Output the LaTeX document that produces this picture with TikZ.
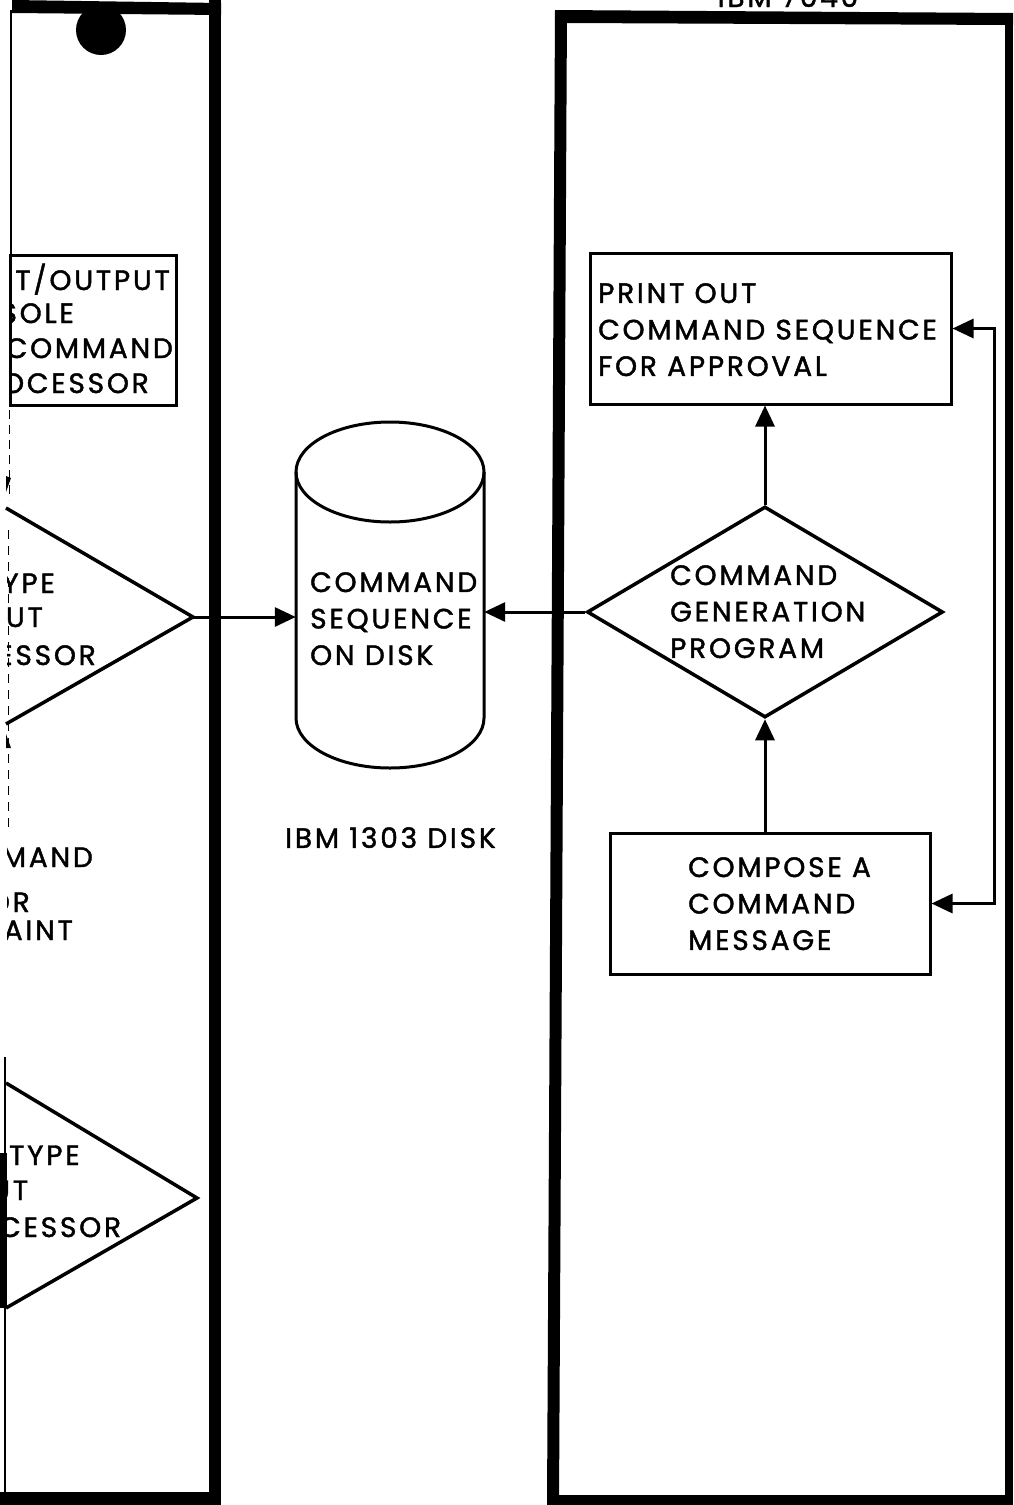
\documentclass[tikz,border=0pt]{standalone}
\usepackage{fontspec}
\setmainfont{Poppins}[LetterSpace=10, FakeBold=1.5]
\usetikzlibrary{arrows.meta,shapes.geometric}
\newcommand\labfont{\fontsize{28}{36.5}\selectfont}
\begin{document}
\begin{tikzpicture}[x=1pt,y=-1pt,
  box/.style={draw, line width=3pt, inner sep=0pt},
  lab/.style={anchor=north west, inner sep=0pt, align=left, font=\labfont},
  frag/.style={anchor=base east, inner sep=0pt, font=\labfont},
  fragw/.style={anchor=base west, inner sep=0pt, font=\labfont},
  edge/.style={line width=3.5pt, line join=miter},
  arr/.style={line width=3pt, -{Triangle[length=21pt,width=19pt]}},
]
\useasboundingbox (0,0) rectangle (1013,1505);
\clip (0,0) rectangle (1013,1505);

% ---------- left panel frame ----------
\fill (12,0) -- (221,3) -- (221,15) -- (12,13) -- cycle;
\fill (209,0) rectangle (221,1505);
\fill (0,1492) rectangle (221,1505);
\draw[line width=1.5pt] (11,10) -- (11,256);
\fill (101,30) circle[radius=25pt];
\draw[line width=1pt, dash pattern=on 9pt off 6pt] (9,410) -- (9,500);
\draw[line width=1pt, dash pattern=on 9pt off 7pt] (8,530) -- (8,830);
\fill (6,476) -- (11,478) -- (6,492) -- cycle;
\fill (6,734) -- (11,748) -- (6,748) -- cycle;

% console command processor box
\node[box, minimum width=166pt, minimum height=150pt] (iobox) at (93,330) {};
\begin{scope}
  \clip (10,240) rectangle (200,420);
  \node[frag] (io1) at (170,290) {UT/OUTPUT};
  \node[frag] (io2) at (74,323) {SOLE};
  \node[frag] (io3) at (173,358) {COMMAND};
  \node[frag] (io4) at (149,393) {OCESSOR};
\end{scope}

% first teletype input processor
\coordinate (t1tip) at (193,617);
\draw[edge] (6,508) -- (t1tip) -- (6,724);
% second teletype input processor
\coordinate (t2tip) at (197,1198);
\draw[edge] (6,1083) -- (t2tip) -- (6,1308);
\fill (0,1153) rectangle (7,1308);
\draw[line width=1.5pt] (5,1057) -- (5,1495);

\begin{scope}
  \clip (7,500) rectangle (200,1400);
  \node[frag] (ta1) at (55,593) {YPE};
  \node[frag] (ta2) at (43,627) {UT};
  \node[frag] (ta3) at (96,665) {ESSOR};
  \node[frag] (cr1) at (93,867) {MAND};
  \node[frag] (cr2) at (30,912) {OR};
  \node[frag] (cr3) at (73,940) {AINT};
  \node[fragw] (tb1) at (9,1165) {TYPE};
  \node[fragw] (tb2) at (-9,1200) {UT};
  \node[fragw] (tb3) at (-1,1237) {CESSOR};
\end{scope}

% ---------- disk ----------
\node[minimum width=188pt, minimum height=200pt, inner sep=0pt] (disk) at (390,615) {};
\draw[line width=3pt] (390,472) ellipse [x radius=94pt, y radius=50pt];
\draw[line width=3pt] (296,472) -- (296,718)
  arc[start angle=180, end angle=360, x radius=94pt, y radius=50pt] -- (484,472);
\node[lab] (disktxt) at (310,572) {COMMAND\\SEQUENCE\\ON DISK};
\node[lab] (disklbl) at (285,827) {IBM 1303 DISK};

% ---------- right panel frame ----------
\fill (555,10) -- (1013,13) -- (1013,25) -- (567,23) -- cycle;
\fill (555,10) -- (567,10) -- (559,1505) -- (547,1505) -- cycle;
\fill (1005,13) rectangle (1013,1505);
\fill (547,1495) rectangle (1013,1505);
\node[anchor=base, inner sep=0pt, font=\labfont] (title) at (788,7) {IBM 7040};

% print-out box
\node[box, minimum width=361pt, minimum height=151pt] (print) at (770.5,328.5) {};
\node[lab] (printtxt) at (598,283) {PRINT OUT\\COMMAND SEQUENCE\\FOR APPROVAL};

% command generation program
\node[draw, diamond, line width=3.5pt, minimum width=356pt, minimum height=211pt,
      inner sep=0pt] (gen) at (765,612) {};
\node[lab] (gentxt) at (670,565) {COMMAND\\GENERATION\\PROGRAM};

% compose box
\node[box, minimum width=320pt, minimum height=141pt] (compose) at (770,903.5) {};
\node[lab] (comptxt) at (688,857) {COMPOSE A\\COMMAND\\MESSAGE};

% ---------- connectors ----------
\draw[arr] (t1tip) -- (t1tip -| disk.west);
\draw[arr] (gen.west) -- (gen.west -| disk.east);
\draw[arr] (gen.north) -- (gen.north |- print.south);
\draw[arr] (compose.north -| gen.south) -- (gen.south);
\draw[line width=3pt, {Triangle[length=21pt,width=19pt]}-{Triangle[length=21pt,width=19pt]}]
  (print.east) -- ++(42,0) |- (compose.east);
\end{tikzpicture}
\end{document}
